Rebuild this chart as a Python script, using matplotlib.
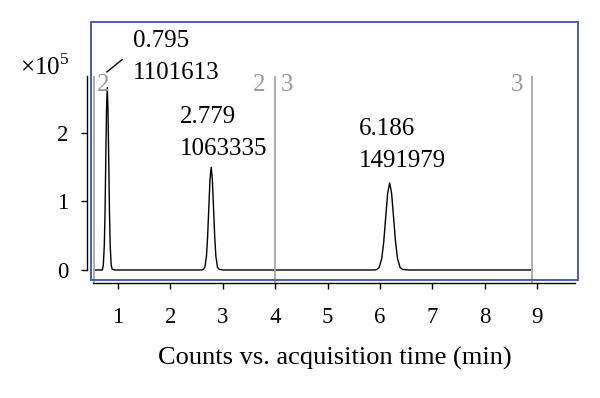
import numpy as np
import matplotlib
matplotlib.use("Agg")
import matplotlib.pyplot as plt
from matplotlib.patches import Rectangle

plt.rcParams['font.family'] = ['Liberation Serif', 'DejaVu Serif']
plt.rcParams['mathtext.fontset'] = 'custom'
plt.rcParams['mathtext.rm'] = 'Liberation Serif'

# chromatogram trace (time in min, counts in 1e5)
trace_t = [0.50, 0.700, 0.720, 0.739, 0.753, 0.767, 0.781, 0.795, 0.809, 0.823,
           0.837, 0.851, 0.870, 0.890, 0.95,
           2.60, 2.629, 2.659, 2.689, 2.7115, 2.734, 2.7565, 2.779, 2.8015, 2.824,
           2.8465, 2.869, 2.899, 2.929, 3.00,
           5.90, 5.936, 5.986, 6.036, 6.0735, 6.111, 6.1485, 6.186, 6.2235, 6.261,
           6.2985, 6.336, 6.386, 6.436, 6.55, 8.90]
trace_y = [0.0, 0.0, 0.07, 0.36, 0.86, 1.62, 2.34, 2.66, 2.34, 1.62,
           0.86, 0.36, 0.07, 0.01, 0.0,
           0.0, 0.006, 0.042, 0.20, 0.49, 0.91, 1.32, 1.50, 1.32, 0.91,
           0.49, 0.20, 0.042, 0.01, 0.0,
           0.0, 0.005, 0.036, 0.17, 0.41, 0.77, 1.12, 1.27, 1.12, 0.77,
           0.41, 0.17, 0.036, 0.008, 0.0, 0.0]

peak_rt = ["0.795", "2.779", "6.186"]
peak_area = ["1101613", "1063335", "1491979"]

segment_x = [0.535, 4.0, 8.9]
xticks = [1, 2, 3, 4, 5, 6, 7, 8, 9]
yticks = [0, 1, 2]

fig = plt.figure(figsize=(6, 3.98), dpi=100)
ax = fig.add_axes([93/600, 1 - 280/398, (575 - 93)/600, (280 - 76)/398])
ax.set_xlim(0.523, 9.725)
ax.set_ylim(-0.146, 2.83)

ax.plot(trace_t, trace_y, color='black', lw=1.0)

for x in segment_x:
    ax.vlines(x, -0.19, 2.83, color='#a8a8a8', lw=1.3, clip_on=False)

gray = '#9a9a9a'
fs = 18
ax.text(0.6, 2.61, "2", color=gray, fontsize=fs)
ax.text(3.81, 2.61, "2", color=gray, fontsize=fs, ha='right')
ax.text(4.1, 2.61, "3", color=gray, fontsize=fs)
ax.text(8.73, 2.61, "3", color=gray, fontsize=fs, ha='right')

# peak labels
lab_x = [1.286, 2.18, 5.6]
lab_y = [3.255, 2.146, 1.97]
for i in range(3):
    ax.text(lab_x[i], lab_y[i], peak_rt[i], fontsize=fs, clip_on=False)
    ax.text(lab_x[i], lab_y[i] - 0.47, peak_area[i], fontsize=fs, clip_on=False)
ax.plot([0.79, 1.08], [2.89, 3.07], color='black', lw=1.0, clip_on=False)

for s in ['top', 'right']:
    ax.spines[s].set_visible(False)
ax.spines['left'].set_position(('outward', 4.3))
ax.spines['left'].set_bounds(0, 2.83)
ax.spines['bottom'].set_position(('outward', 2.2))
for s in ['left', 'bottom']:
    ax.spines[s].set_linewidth(1.0)

ax.set_xticks(xticks)
ax.set_yticks(yticks)
ax.tick_params(axis='both', direction='out', length=4.5, width=1.0, labelsize=16.5)
ax.tick_params(axis='y', pad=9)
ax.tick_params(axis='x', pad=13)

fig.text(20/600, 1 - 75/398, r'$\times10^5$', fontsize=fs)
fig.text(335/600, 1 - 358/398, "Counts vs. acquisition time (min)", fontsize=19,
         ha='center', va='center')

fig.patches.append(Rectangle((91/600, 1 - 280/398), (578 - 91)/600, (280 - 22)/398,
                             transform=fig.transFigure, fill=False,
                             edgecolor='#4b5ba9', lw=1.4))

fig.savefig("out.png", dpi=100)
